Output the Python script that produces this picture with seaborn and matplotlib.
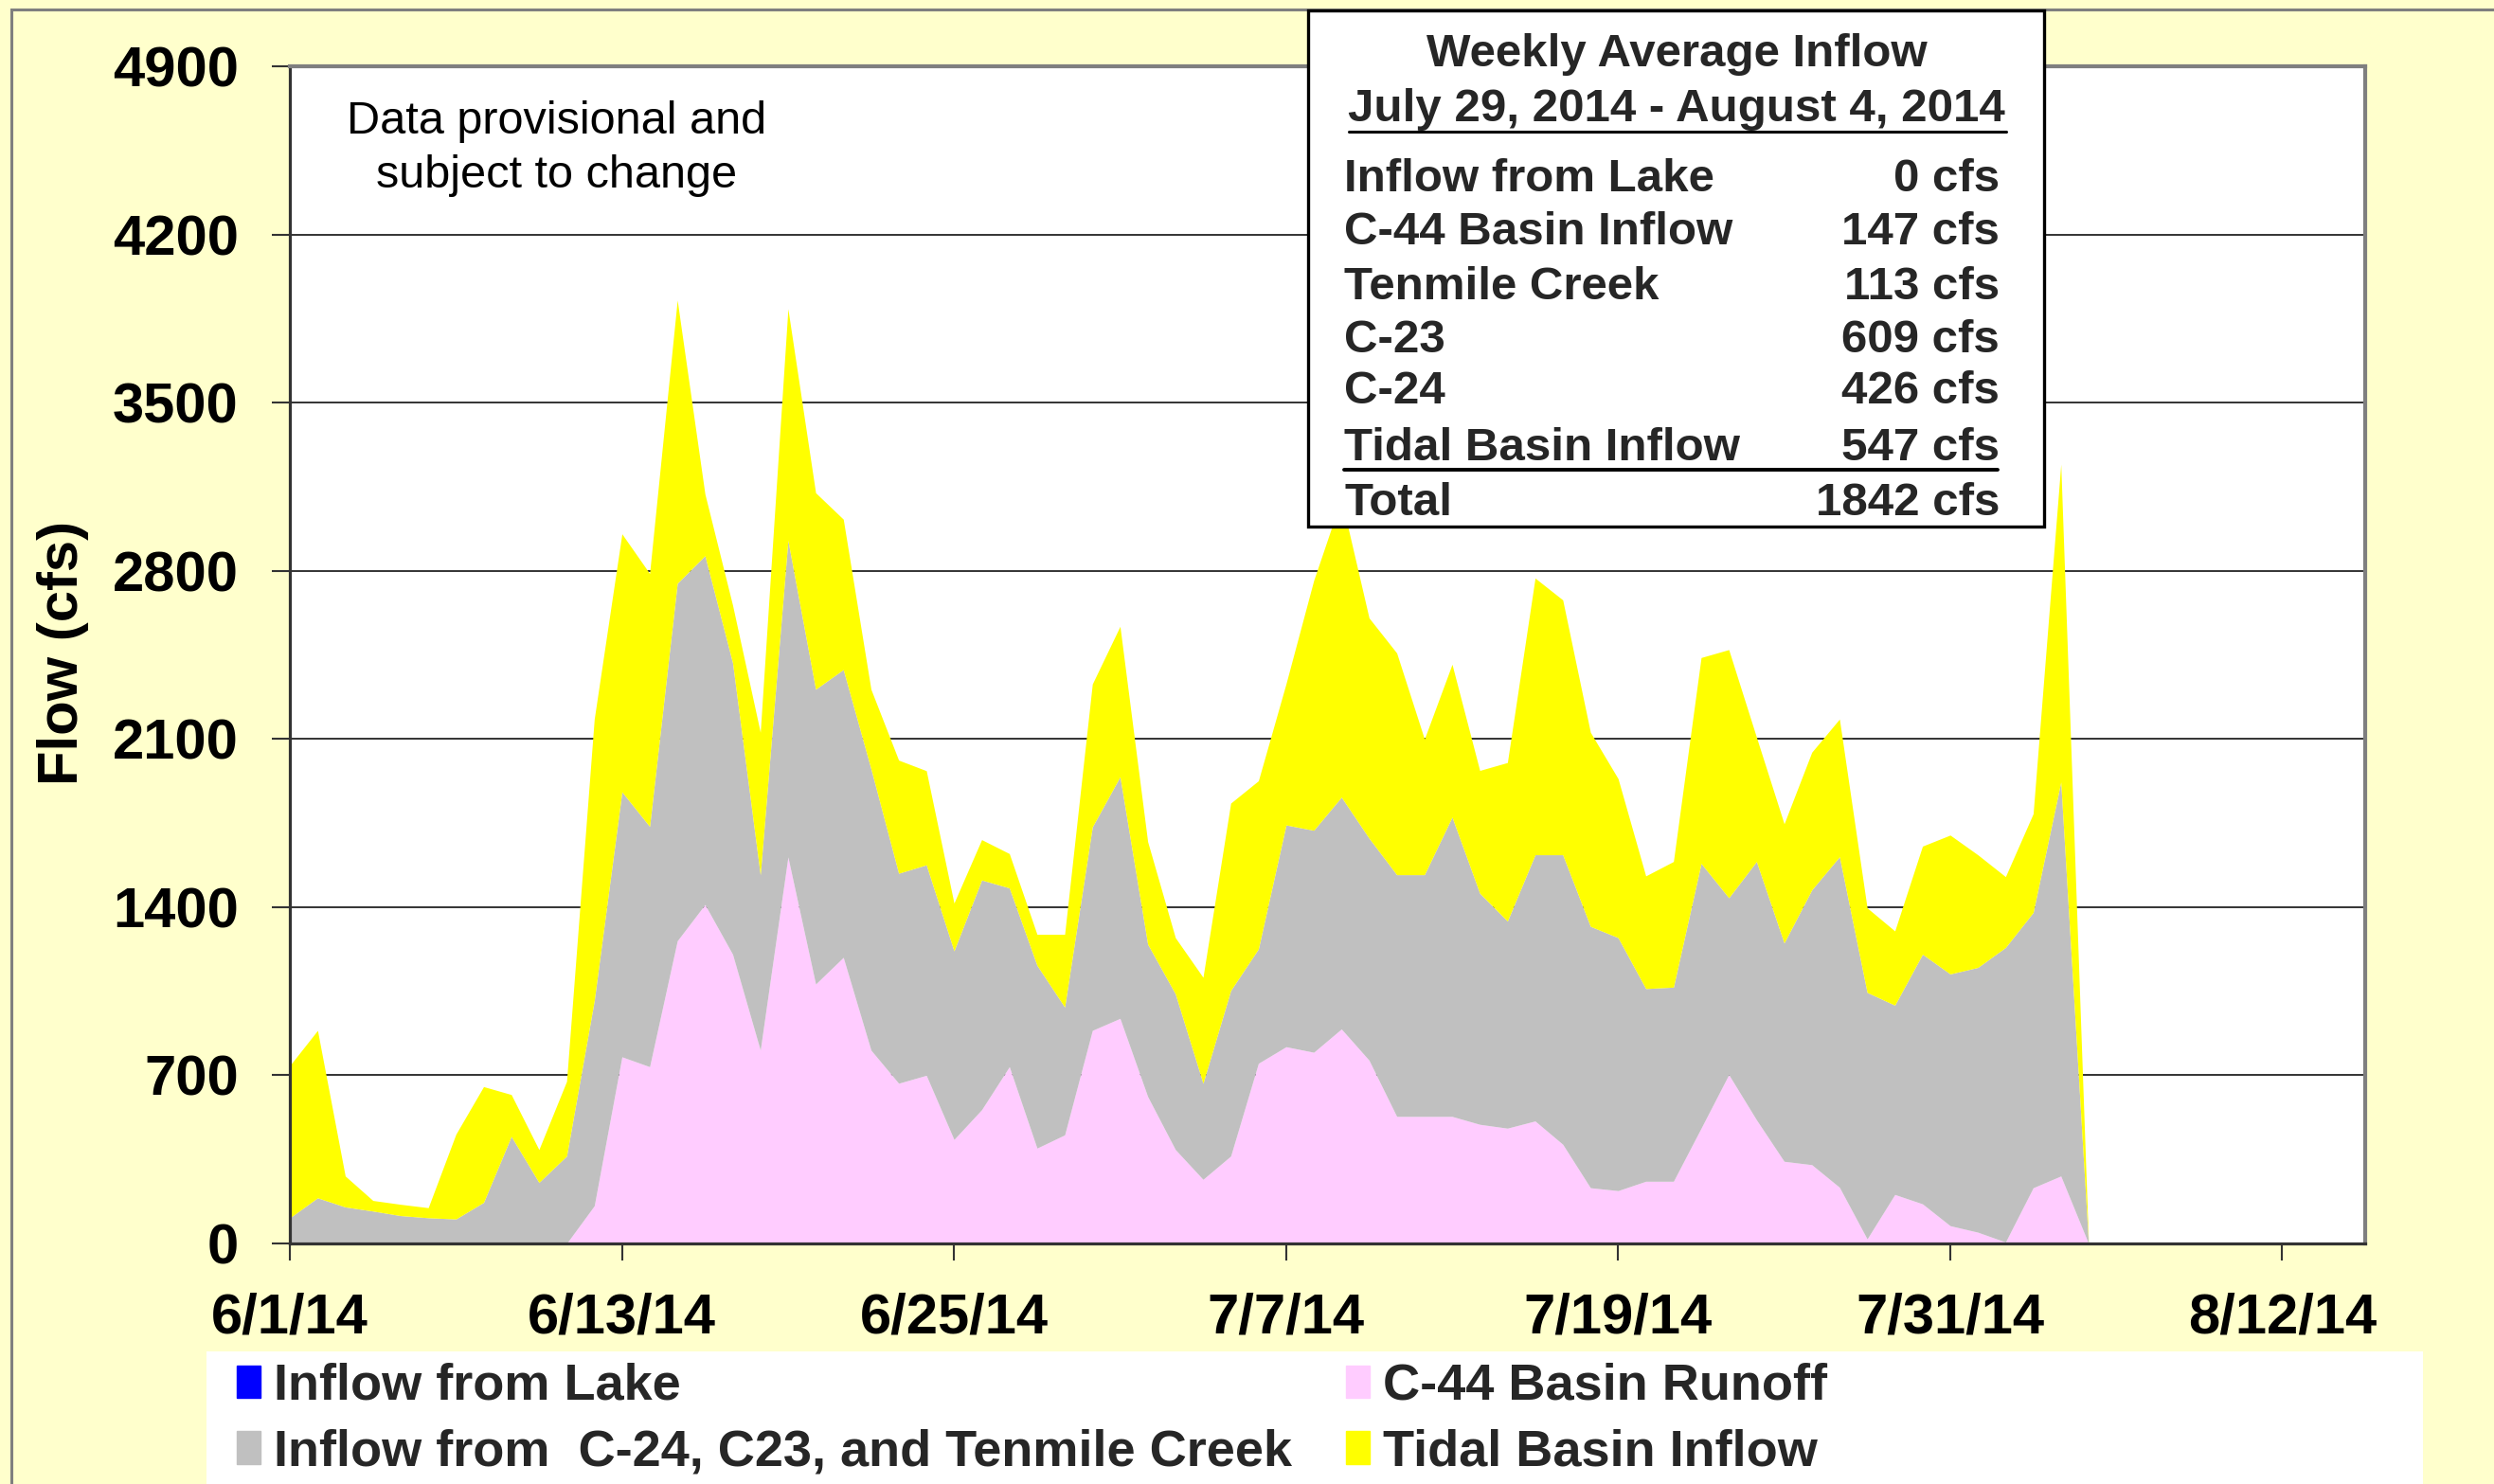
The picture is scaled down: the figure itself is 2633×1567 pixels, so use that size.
import numpy as np
import pandas as pd
import matplotlib
matplotlib.use("Agg")
import matplotlib.pyplot as plt
import seaborn as sns
from matplotlib.patches import Rectangle, Patch
from matplotlib.lines import Line2D

sns.set_theme(style="white")
plt.rcParams['font.family'] = ['Liberation Sans', 'DejaVu Sans']

# daily flows (cfs), 6/1/14 - 8/5/14
dates = pd.date_range("2014-06-01", periods=66, freq="D")
lake_inflow = [0] * 66
c44_runoff = [0, 0, 0, 0, 0, 0, 0, 0, 0, 0, 0, 157, 777, 736, 1260, 1411, 1204, 805, 1609, 1080,
              1191, 805, 667, 700, 433, 557, 736, 397, 452, 887, 937, 612, 391, 267, 364, 750, 819, 796,
              893, 763, 529, 529, 529, 496, 480, 510, 413, 232, 220, 259, 259, 480, 703, 515, 342, 328,
              234, 19, 204, 165, 74, 47, 6, 232, 281, 0]
c24_c23_tenmile = [107, 190, 152, 135, 116, 107, 102, 171, 446, 254, 364, 854, 1103, 1000, 1488, 1452,
                   1213, 730, 1318, 1227, 1198, 1171, 874, 876, 785, 956, 744, 761, 532, 847, 1006, 634,
                   648, 400, 689, 476, 923, 924, 965, 924, 1006, 1006, 1246, 962, 862, 1108, 1205, 1088,
                   1053, 802, 808, 1102, 736, 1075, 909, 1144, 1376, 1026, 788, 1039, 1048, 1102, 1226,
                   1146, 1640, 0]
tidal_inflow = [634, 697, 129, 44, 47, 42, 353, 482, 174, 137, 311, 1172, 1074, 1053, 1179, 257, 240, 593,
                964, 818, 626, 331, 471, 392, 199, 168, 143, 129, 303, 595, 626, 427, 234, 441, 780, 700,
                588, 1040, 1242, 917, 923, 565, 636, 511, 660, 1152, 1061, 808, 662, 469, 523, 857, 1033,
                518, 496, 573, 573, 352, 309, 450, 578, 469, 295, 411, 1323, 0]

tick_dates = pd.date_range("2014-06-01", periods=7, freq="12D")
y_ticks = list(range(0, 4901, 700))

box_title = "Weekly Average Inflow"
box_period = "July 29, 2014 - August 4, 2014"
box_rows = [("Inflow from Lake", "0 cfs"), ("C-44 Basin Inflow", "147 cfs"),
            ("Tenmile Creek", "113 cfs"), ("C-23", "609 cfs"), ("C-24", "426 cfs"),
            ("Tidal Basin Inflow", "547 cfs"), ("Total", "1842 cfs")]

colors = {"lake": "#0000FF", "c44": "#FFCCFF", "gray": "#C0C0C0", "tidal": "#FFFF00"}

W, H = 2633, 1567
fig = plt.figure(figsize=(W / 100, H / 100), dpi=100)
fig.patch.set_facecolor("#FFFFCC")

def fx(px):
    return px / W

def fy(py):
    return 1 - py / H

ax = fig.add_axes([fx(306), fy(1313), fx(2497) - fx(306), fy(70) - fy(1313)])
ax.set_facecolor("white")

ax.stackplot(dates, lake_inflow, c44_runoff, c24_c23_tenmile, tidal_inflow,
             colors=[colors["lake"], colors["c44"], colors["gray"], colors["tidal"]],
             linewidth=0, zorder=2)

ax.set_xlim(pd.Timestamp("2014-06-01"), pd.Timestamp("2014-08-15"))
ax.set_ylim(0, 4900)
ax.set_yticks(y_ticks)
ax.set_yticklabels([str(v) for v in y_ticks])
ax.set_xticks(tick_dates)
ax.set_xticklabels([f"{d.month}/{d.day}/{d:%y}" for d in tick_dates])

ax.yaxis.grid(True, color="#333333", linewidth=1.4, zorder=1)
ax.xaxis.grid(False)
ax.set_axisbelow(True)

for side in ["left", "bottom"]:
    ax.spines[side].set_color("#333333")
    ax.spines[side].set_linewidth(2.3)
for side in ["top", "right"]:
    ax.spines[side].set_color("#7F7F7F")
    ax.spines[side].set_linewidth(3.0)

ax.tick_params(axis="y", direction="out", length=14, width=1.5, color="#333333",
               pad=25, labelsize=43, left=True)
ax.tick_params(axis="x", direction="out", length=13, width=1.5, color="#333333",
               pad=24, labelsize=43, bottom=True)
for lbl in ax.get_xticklabels() + ax.get_yticklabels():
    lbl.set_fontweight("bold")
    lbl.set_color("black")

ax.set_ylabel("Flow (cfs)", fontsize=43, fontweight="bold", color="black", va="center")
ax.yaxis.set_label_coords((67 - 306) / (2497 - 306), 0.502)

ax.text(0.1287, 0.930, "Data provisional and\nsubject to change", transform=ax.transAxes,
        ha="center", va="center", fontsize=35, color="black", linespacing=1.32)

# figure border
fig.add_artist(Rectangle((fx(12), fy(H + 20)), 1.2, fy(10) - fy(H + 20), transform=fig.transFigure,
                         facecolor="none", edgecolor="#7F7F7F", linewidth=2.2))

# weekly average box
fig.add_artist(Rectangle((fx(1381), fy(556)), fx(2158) - fx(1381), fy(11) - fy(556),
                         transform=fig.transFigure, facecolor="white", edgecolor="black",
                         linewidth=2.4, zorder=5))
fig.text(fx(1770), fy(58), box_title, ha="center", va="center", fontsize=35.5,
         fontweight="bold", zorder=6)
fig.text(fx(1770), fy(115), box_period, ha="center", va="center", fontsize=35.5,
         fontweight="bold", zorder=6)
fig.add_artist(Line2D([fx(1424), fx(2118)], [fy(139), fy(139)], transform=fig.transFigure,
                      color="black", linewidth=2.2, zorder=6))
row_y = [189, 246, 303, 359, 414, 473, 532]
for (name, val), yy in zip(box_rows, row_y):
    fig.text(fx(1419), fy(yy), name, ha="left", va="center", fontsize=35.5,
             fontweight="bold", zorder=6)
    fig.text(fx(2111), fy(yy), val, ha="right", va="center", fontsize=35.5,
             fontweight="bold", zorder=6)
fig.add_artist(Line2D([fx(1419), fx(2109)], [fy(496), fy(496)], transform=fig.transFigure,
                      color="black", linewidth=2.8, zorder=6))

# legend
fig.add_artist(Rectangle((fx(218), fy(H + 20)), fx(2558) - fx(218), fy(1427) - fy(H + 20),
                         transform=fig.transFigure, facecolor="white", edgecolor="none"))
handles = [Patch(color=colors["lake"]), Patch(color=colors["gray"]),
           Patch(color=colors["c44"]), Patch(color=colors["tidal"])]
labels = ["Inflow from Lake", "Inflow from  C-24, C23, and Tenmile Creek",
          "C-44 Basin Runoff", "Tidal Basin Inflow"]
fig.legend(handles, labels, ncol=2, loc="upper left", bbox_to_anchor=(fx(250), fy(1439)),
           frameon=False, borderpad=0, borderaxespad=0,
           prop={"size": 39, "weight": "bold"}, handlelength=0.46, handleheight=0.6,
           handletextpad=0.26, columnspacing=1.05, labelspacing=0.36)

fig.savefig("out.png", dpi=100, facecolor=fig.get_facecolor())
